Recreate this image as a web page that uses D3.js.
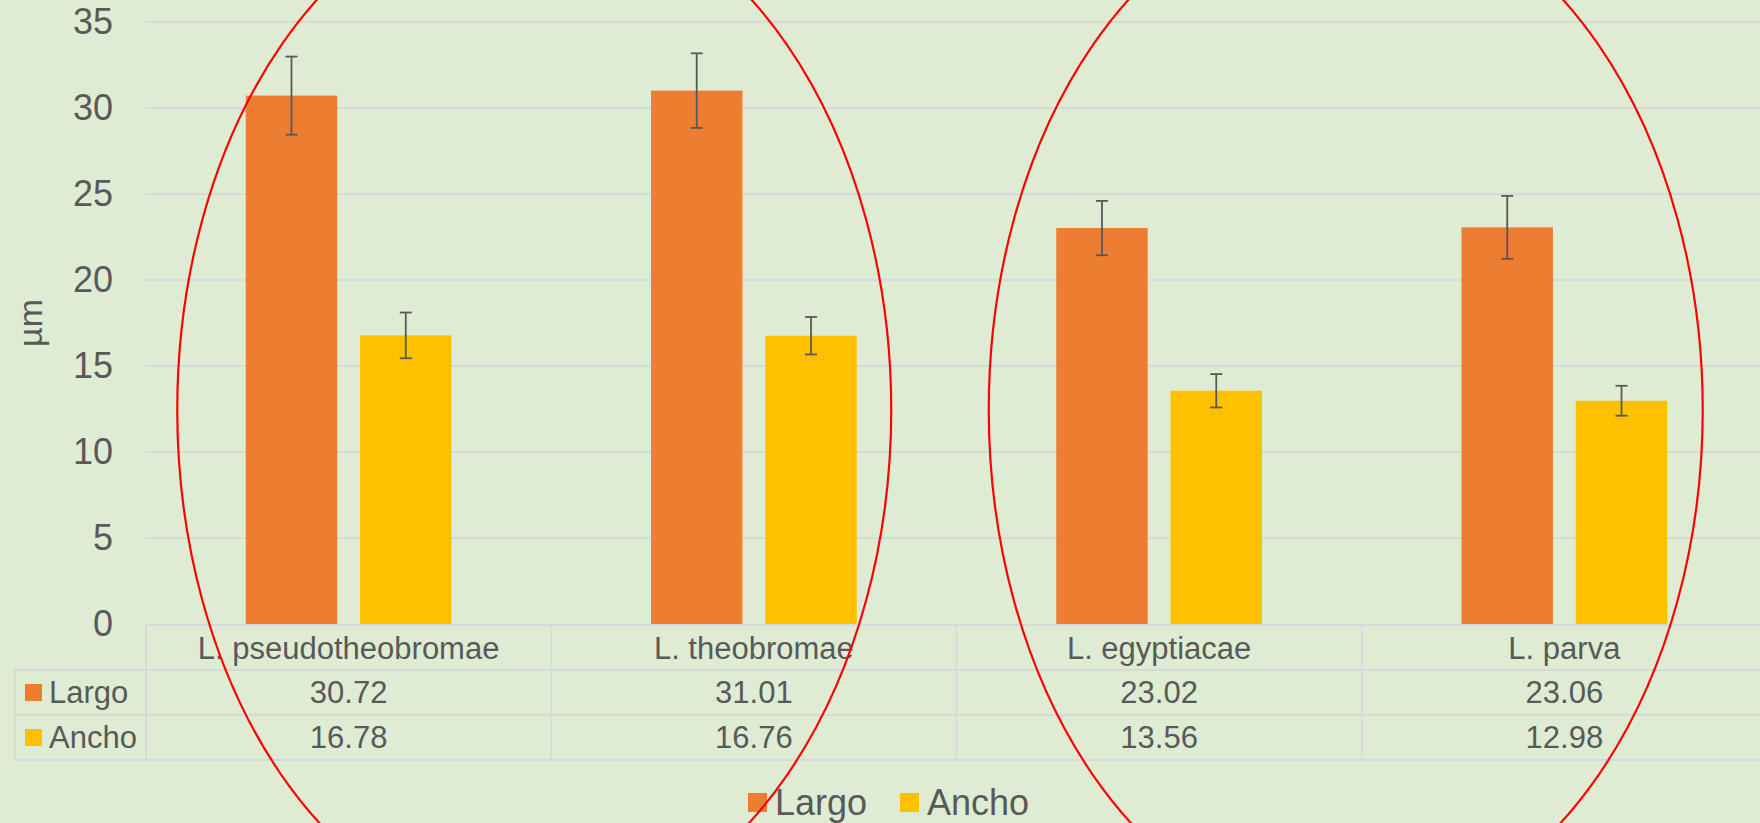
<!DOCTYPE html>
<html>
<head>
<meta charset="utf-8">
<script src="https://cdn.jsdelivr.net/npm/d3@7"></script>
<style>
  html, body { margin: 0; padding: 0; background: #DEECD3; overflow: hidden; }
  svg { display: block; }
</style>
</head>
<body>
<svg id="chart" width="1760" height="823"></svg>
<script>
const categories = ['L. pseudotheobromae', 'L. theobromae', 'L. egyptiacae', 'L. parva'];
const seriesNames = ['Largo', 'Ancho'];
const largoValues = [30.72, 31.01, 23.02, 23.06];
const anchoValues = [16.78, 16.76, 13.56, 12.98];
const largoErrors = [2.27, 2.17, 1.58, 1.83];
const anchoErrors = [1.33, 1.09, 0.97, 0.87];
const yTicks = [0, 5, 10, 15, 20, 25, 30, 35];
const yLabel = 'µm';

const colors = { Largo: '#ED7D31', Ancho: '#FFC000' };
const textColor = '#595959';
const gridColor = '#D9D9D9';
const font = '"Liberation Sans", Arial, sans-serif';

const rows = seriesNames.map((name, i) => ({
    name: name,
    values: i === 0 ? largoValues : anchoValues,
    errors: i === 0 ? largoErrors : anchoErrors
}));

const svg = d3.select('#chart');
const plotLeft = 146, plotRight = 1767, plotTop = 22, plotBottom = 624;

const xScale = d3.scaleBand().domain(categories).range([plotLeft, plotRight]).padding(0);
const xInner = d3.scaleBand().domain(seriesNames)
    .range([0, xScale.bandwidth()])
    .paddingInner(0.2)
    .paddingOuter(0.873);
const yScale = d3.scaleLinear().domain([0, 35]).range([plotBottom, plotTop]);

// gridlines
svg.append('g')
    .selectAll('line')
    .data(yTicks.filter(t => t > 0))
    .enter()
    .append('line')
    .attr('x1', plotLeft).attr('x2', plotRight)
    .attr('y1', d => yScale(d)).attr('y2', d => yScale(d))
    .style('stroke', gridColor)
    .style('stroke-width', 1.8);

// y axis labels
const yAxis = svg.append('g')
    .attr('transform', 'translate(' + plotLeft + ',0)')
    .call(d3.axisLeft(yScale).tickValues(yTicks).tickSize(0).tickPadding(33));
yAxis.select('.domain').remove();
yAxis.selectAll('text')
    .style('font-family', font)
    .style('font-size', '36px')
    .style('fill', textColor);

// y title
svg.append('text')
    .attr('transform', 'translate(42,' + ((plotTop + plotBottom) / 2) + ')rotate(-90)')
    .attr('text-anchor', 'middle')
    .style('font-family', font)
    .style('font-size', '34px')
    .style('fill', textColor)
    .text(yLabel);

// bars
const groups = svg.append('g')
    .selectAll('g')
    .data(rows)
    .enter()
    .append('g');

groups.selectAll('rect')
    .data(s => s.values.map((v, i) => ({ name: s.name, cat: categories[i], value: v })))
    .enter()
    .append('rect')
    .attr('x', d => xScale(d.cat) + xInner(d.name))
    .attr('y', d => yScale(d.value))
    .attr('width', xInner.bandwidth())
    .attr('height', d => yScale(0) - yScale(d.value))
    .style('fill', d => colors[d.name]);

// error bars
const errData = [];
rows.forEach(s => s.values.forEach((v, i) => {
    errData.push({ cx: xScale(categories[i]) + xInner(s.name) + xInner.bandwidth() / 2, value: v, err: s.errors[i] });
}));
const eb = svg.append('g').selectAll('g').data(errData).enter().append('g')
    .style('stroke', '#595959').style('stroke-width', 1.8);
eb.append('line')
    .attr('x1', d => d.cx).attr('x2', d => d.cx)
    .attr('y1', d => yScale(d.value + d.err)).attr('y2', d => yScale(d.value - d.err));
eb.append('line')
    .attr('x1', d => d.cx - 6).attr('x2', d => d.cx + 6)
    .attr('y1', d => yScale(d.value + d.err)).attr('y2', d => yScale(d.value + d.err));
eb.append('line')
    .attr('x1', d => d.cx - 6).attr('x2', d => d.cx + 6)
    .attr('y1', d => yScale(d.value - d.err)).attr('y2', d => yScale(d.value - d.err));

// data table
const rowH = 45;
const tableTop = plotBottom + 1;
const tableLeft = 15;
const table = svg.append('g').style('stroke', gridColor).style('stroke-width', 1.8);
table.append('line').attr('x1', plotLeft).attr('x2', plotRight).attr('y1', tableTop).attr('y2', tableTop);
[1, 2, 3].forEach(r => {
    table.append('line').attr('x1', tableLeft).attr('x2', plotRight)
        .attr('y1', tableTop + r * rowH).attr('y2', tableTop + r * rowH);
});
table.append('line').attr('x1', tableLeft).attr('x2', tableLeft)
    .attr('y1', tableTop + rowH).attr('y2', tableTop + 3 * rowH);
table.selectAll('.vline')
    .data(categories)
    .enter()
    .append('line')
    .attr('x1', d => xScale(d)).attr('x2', d => xScale(d))
    .attr('y1', tableTop).attr('y2', tableTop + 3 * rowH);

svg.append('g').selectAll('text')
    .data(categories)
    .enter()
    .append('text')
    .attr('x', d => xScale(d) + xScale.bandwidth() / 2)
    .attr('y', tableTop + 34)
    .attr('text-anchor', 'middle')
    .style('font-family', font)
    .style('font-size', '31px')
    .style('fill', textColor)
    .text(d => d);

rows.forEach((s, r) => {
    const rowTop = tableTop + (r + 1) * rowH;
    svg.append('rect')
        .attr('x', 25).attr('y', rowTop + 14)
        .attr('width', 17).attr('height', 17)
        .style('fill', colors[s.name]);
    svg.append('text')
        .attr('x', 49).attr('y', rowTop + 33)
        .style('font-family', font)
        .style('font-size', '31px')
        .style('fill', textColor)
        .text(s.name);
    svg.append('g').selectAll('text')
        .data(s.values)
        .enter()
        .append('text')
        .attr('x', (d, i) => xScale(categories[i]) + xScale.bandwidth() / 2)
        .attr('y', rowTop + 33)
        .attr('text-anchor', 'middle')
        .style('font-family', font)
        .style('font-size', '31px')
        .style('fill', textColor)
        .text(d => d.toFixed(2));
});

// legend
const legendX = [748, 900];
seriesNames.forEach((name, i) => {
    svg.append('rect')
        .attr('x', legendX[i]).attr('y', 793)
        .attr('width', 19).attr('height', 19)
        .style('fill', colors[name]);
    svg.append('text')
        .attr('x', legendX[i] + 27).attr('y', 815)
        .style('font-family', font)
        .style('font-size', '36px')
        .style('fill', textColor)
        .text(name);
});

// red ellipse annotations around pairs of species
const ellipseCenters = [xScale(categories[1]) - 17, xScale(categories[3]) - 16];
svg.append('g').selectAll('ellipse')
    .data(ellipseCenters)
    .enter()
    .append('ellipse')
    .attr('cx', d => d)
    .attr('cy', 410)
    .attr('rx', 357)
    .attr('ry', 517)
    .style('fill', 'none')
    .style('stroke', '#FF0000')
    .style('stroke-width', 2.2);
</script>
</body>
</html>
